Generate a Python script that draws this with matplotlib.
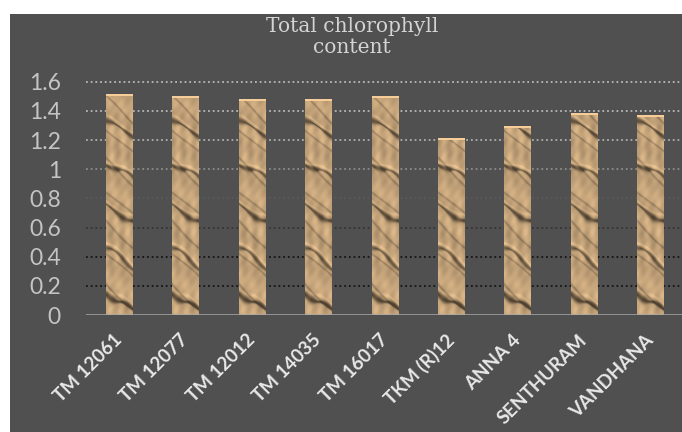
import matplotlib
matplotlib.use("Agg")
import matplotlib.pyplot as plt
import numpy as np
from matplotlib.patches import Rectangle

# chlorophyll content per genotype
genotypes = ["TM 12061", "TM 12077", "TM 12012", "TM 14035", "TM 16017",
             "TKM (R)12", "ANNA 4", "SENTHURAM", "VANDHANA"]
chlorophyll = [1.51, 1.50, 1.48, 1.48, 1.50, 1.21, 1.29, 1.38, 1.37]
yticks = [0, 0.2, 0.4, 0.6, 0.8, 1.0, 1.2, 1.4, 1.6]
ytick_labels = ["0", "0.2", "0.4", "0.6", "0.8", "1", "1.2", "1.4", "1.6"]
# gridlines fade from light at the top to black at the bottom
grid_colors = ["#b8b8b8", "#b8b8b8", "#b0b0b0", "#8c8c8c", "#5a5a5a",
               "#353535", "#151515", "#151515"]


def wood_texture(rows, cols):
    """Procedural papyrus-like texture, rows counted from the bottom."""
    y, x = np.mgrid[0:rows, 0:cols].astype(float)
    warp = 2.5 * np.sin(x * 0.2 + y * 0.05) + 1.5 * np.sin(y * 0.17)
    t = (y + 0.6 * x + warp) / 43.0
    phase = t - np.floor(t)
    width = 0.05 + 0.025 * np.sin(x * 0.3 + y * 0.04)
    streak = np.exp(-((phase - 0.5) / width) ** 2)
    t2 = (y + 0.9 * x + 17 + 2 * np.sin(y * 0.11)) / 31.0
    streak2 = np.exp(-((t2 - np.floor(t2) - 0.5) / 0.045) ** 2)
    mottle = (np.sin(x * 0.35 + y * 0.12) * np.cos(y * 0.09 - x * 0.2)
              + 0.5 * np.sin(x * 0.6 - y * 0.25) * np.sin(y * 0.21))
    light = 0.86 + 0.08 * mottle - 0.45 * streak - 0.2 * streak2
    # thin highlight on the lit edge just above each crease
    hl = np.exp(-((phase - 0.6) / 0.03) ** 2)
    light += 0.12 * hl
    light[-2:, :] = 1.08
    light = np.clip(light, 0.35, 1.12)
    base = np.array([228, 190, 142]) / 255.0
    img = np.clip(light[..., None] * base[None, None, :], 0, 1)
    return img


fig = plt.figure(figsize=(6.82, 4.32), dpi=100)
fig.patch.set_facecolor("white")
fig.patches.append(Rectangle((10 / 682, 0), 1, (432 - 14) / 432,
                             transform=fig.transFigure, facecolor="#505050",
                             edgecolor="none", zorder=-10))

px_per_unit = (315 - 81.7) / 1.6
ymax = 1.7
ax = fig.add_axes([86 / 682, (432 - 315) / 432, 598 / 682, ymax * px_per_unit / 432])
ax.set_facecolor("none")
ax.set_zorder(1)

x = np.arange(len(genotypes))
bars = ax.bar(x, chlorophyll, width=0.405, color="#c9a26f", zorder=3)
for b in bars:
    rows = max(int(b.get_height() * px_per_unit), 2)
    ax.imshow(wood_texture(rows, 27), origin="lower", aspect="auto",
              interpolation="bilinear", zorder=4,
              extent=[b.get_x(), b.get_x() + b.get_width(), 0, b.get_height()])

for yv, c in zip(yticks[1:], grid_colors[::-1]):
    ax.axhline(yv, color=c, lw=1.3, linestyle=(0, (1, 1.6)), zorder=1)
ax.axhline(0, color="#a8a8a8", lw=1.8, zorder=5)

ax.set_xlim(-0.5, len(genotypes) - 0.5)
ax.set_ylim(0, ymax)
ax.set_yticks(yticks)
ax.set_yticklabels(ytick_labels, fontsize=16.5, color="#c4c4c4", family="Lato")
ax.set_xticks(x)
ax.set_xticklabels(genotypes, rotation=45, ha="right", va="center",
                   rotation_mode="anchor", fontsize=13.5, fontweight="bold",
                   color="#e8e8e8", family="Lato")
ax.tick_params(axis="y", length=0, pad=18)
ax.tick_params(axis="x", length=0, pad=16)
for s in ax.spines.values():
    s.set_visible(False)

fig.text(352 / 682, 1 - 37 / 432, "Total chlorophyll\ncontent", ha="center",
         va="center", fontsize=14.5, color="#d4d4d4", family="DejaVu Serif",
         linespacing=1.1)

fig.savefig("out.png", dpi=100)
